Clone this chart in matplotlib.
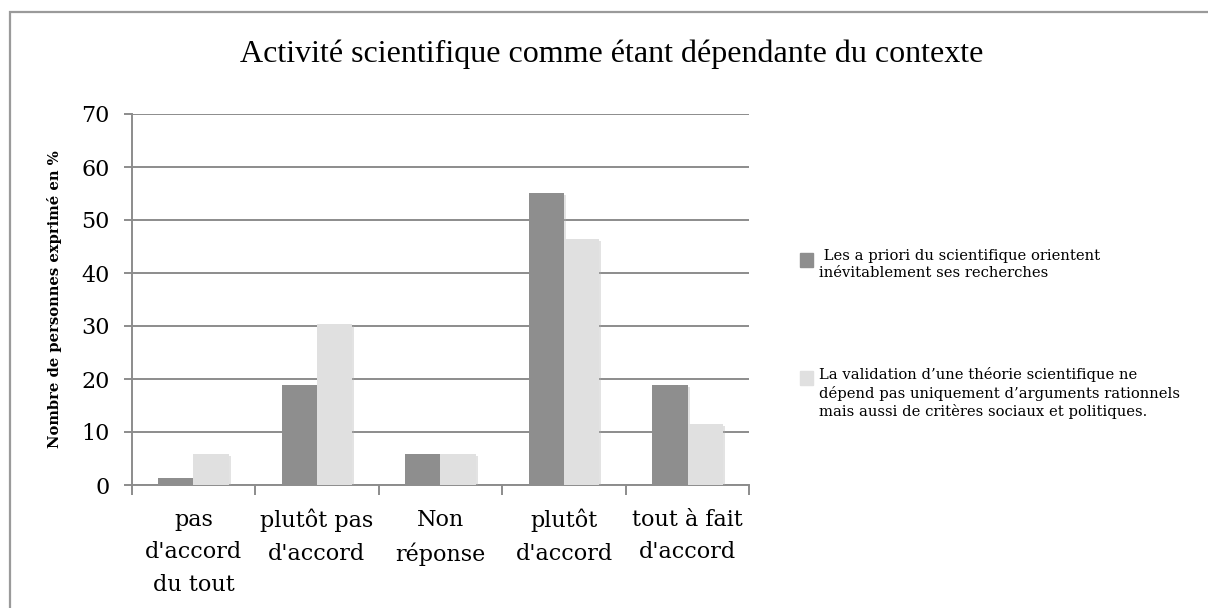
import numpy as np
import matplotlib.pyplot as plt
import matplotlib.patheffects as pe
from matplotlib.patches import Rectangle

# Données (en %)
categories = ["pas\nd'accord\ndu tout", "plutôt pas\nd'accord", "Non\nréponse",
              "plutôt\nd'accord", "tout à fait\nd'accord"]
serie_a = [1.4, 18.8, 5.8, 55.1, 18.8]
serie_b = [5.8, 30.4, 5.8, 46.4, 11.6]
noms_series = [" Les a priori du scientifique orientent\ninévitablement ses recherches",
               "La validation d’une théorie scientifique ne\ndépend pas uniquement d’arguments rationnels\nmais aussi de critères sociaux et politiques."]
couleurs = ['#8e8e8e', '#e0e0e0']

W, H = 1208, 608
fig = plt.figure(figsize=(W / 100, H / 100), dpi=100)

# cadre extérieur
fig.add_artist(Rectangle((10 / W, -0.1), 1.2, 1 - 12 / H + 0.1, transform=fig.transFigure,
                         fill=False, edgecolor='#9a9a9a', linewidth=1.6))

ax = fig.add_axes([131.7 / W, 1 - 485 / H, (749.3 - 131.7) / W, (485 - 114) / H])

x = np.arange(len(categories))
w = 0.285
ombre = [pe.SimplePatchShadow(offset=(1.5, -1.5), shadow_rgbFace='#b0b0b0', alpha=0.35), pe.Normal()]
b1 = ax.bar(x - w / 2, serie_a, w, color=couleurs[0], zorder=3)
b2 = ax.bar(x + w / 2, serie_b, w, color=couleurs[1], zorder=3)
for r in list(b1) + list(b2):
    r.set_path_effects(ombre)

ax.set_xlim(-0.5, len(categories) - 0.5)
ax.set_ylim(0, 70)
ax.set_yticks(range(0, 71, 10))
ax.yaxis.grid(True, color='#8c8c8c', linewidth=1.4, zorder=0)
ax.set_axisbelow(True)

for s in ['top', 'right']:
    ax.spines[s].set_visible(False)
for s in ['left', 'bottom']:
    ax.spines[s].set_color('#8c8c8c')
    ax.spines[s].set_linewidth(1.4)

# graduations x aux limites des catégories, libellés au centre
ax.set_xticks(np.arange(-0.5, len(categories)), labels=[''] * (len(categories) + 1))
ax.set_xticks(x, labels=categories, minor=True)
ax.tick_params(axis='x', which='major', length=7, width=1.4, color='#8c8c8c')
ax.tick_params(axis='x', which='minor', length=0, pad=17)
ax.tick_params(axis='y', length=6, width=1.4, color='#8c8c8c', pad=10)
for lab in ax.get_xticklabels(minor=True):
    lab.set_fontfamily('DejaVu Serif')
    lab.set_fontsize(16)
    lab.set_linespacing(1.62)
for lab in ax.get_yticklabels():
    lab.set_fontfamily('DejaVu Serif')
    lab.set_fontsize(16)

ax.set_ylabel('Nombre de personnes exprimé en %', fontfamily='DejaVu Serif',
              fontweight='bold', fontsize=10.6, labelpad=14)

fig.text(612 / W, 1 - 54 / H, 'Activité scientifique comme étant dépendante du contexte',
         ha='center', va='center', fontfamily='Liberation Serif', fontsize=23)

# légende
pos_y = [260, 378]
for nom, c, yy in zip(noms_series, couleurs, pos_y):
    fig.add_artist(Rectangle((800 / W, 1 - (yy + 7) / H), 13 / W, 14 / H,
                             transform=fig.transFigure, color=c))
    fig.text(819 / W, 1 - (yy - 11) / H, nom, ha='left', va='top',
             fontfamily='DejaVu Serif', fontsize=10.6, linespacing=1.3)

fig.savefig('out.png', dpi=100)
